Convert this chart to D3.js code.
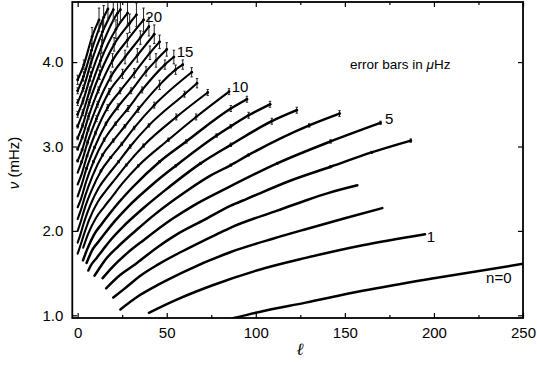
<!DOCTYPE html>
<html>
<head>
<meta charset="utf-8">
<script src="https://cdn.jsdelivr.net/npm/d3@7/dist/d3.min.js"></script>
<style>
  body { margin: 0; background: #fff; }
  svg text { font-family: "Liberation Sans", Arial, sans-serif; fill: #000; }
</style>
</head>
<body>
<svg id="chart" width="537" height="366"></svg>
<script>
// ridges of the l-nu diagram, [degree l, frequency nu in mHz], one array per radial order n
const n0 = [[87, 0.965], [102, 1.04], [128, 1.15], [160, 1.29], [200, 1.44], [250, 1.61]];
const n1 = [[40, 1.03], [55, 1.18], [75, 1.35], [102, 1.54], [128, 1.68], [160, 1.83], [195, 1.96]];
const n2 = [[24, 1.07], [35, 1.24], [45, 1.36], [59, 1.51], [86, 1.75], [110, 1.91], [128, 2.02], [150, 2.15], [171, 2.27]];
const n3 = [[20, 1.21], [26, 1.31], [36, 1.48], [45, 1.60], [58, 1.75], [78, 1.96], [86, 2.04], [112, 2.24], [128, 2.36], [141, 2.45], [157, 2.54]];
const n4 = [[16, 1.32], [24, 1.48], [32, 1.60], [45, 1.81], [55, 1.95], [71, 2.13], [86, 2.30], [95, 2.38], [120, 2.60], [142, 2.76], [165, 2.93], [187, 3.07]];
const n5 = [[14, 1.44], [19, 1.56], [28, 1.74], [37, 1.89], [53, 2.14], [65, 2.30], [84, 2.51], [112, 2.80], [142, 3.06], [170, 3.28]];
const n6 = [[9.5, 1.47], [12.6, 1.57], [16, 1.67], [22, 1.80], [33, 2.01], [43, 2.19], [61, 2.47], [75, 2.66], [86, 2.78], [96, 2.90], [130, 3.25], [147, 3.39]];
const n7 = [[6, 1.53], [7.4, 1.59], [10.7, 1.68], [14.3, 1.78], [18.4, 1.89], [25, 2.04], [37.5, 2.28], [49, 2.48], [69, 2.80], [86, 3.02], [109, 3.30], [123, 3.43]];
const n8 = [[5, 1.62], [8.4, 1.78], [12, 1.88], [16, 1.99], [20.6, 2.11], [28, 2.28], [42, 2.55], [55, 2.77], [78, 3.13], [86, 3.24], [96, 3.37], [108, 3.50]];
const n9 = [[3, 1.65], [5.5, 1.79], [9.3, 1.96], [13.4, 2.08], [17.8, 2.20], [22.8, 2.33], [31, 2.52], [46, 2.82], [61, 3.06], [86, 3.45], [95, 3.56]];
const n10 = [[3.1, 1.80], [6, 1.97], [10.2, 2.15], [14.7, 2.28], [19.5, 2.41], [25, 2.56], [34, 2.77], [51, 3.08], [66.5, 3.35], [85, 3.65]];
const n11 = [[0, 1.73], [1.3, 1.81], [3.4, 1.95], [6.6, 2.14], [11.2, 2.34], [16, 2.48], [21.3, 2.62], [27.3, 2.78], [37, 3.01], [55.4, 3.35], [73, 3.64]];
const n12 = [[0, 1.86], [1.45, 1.95], [3.7, 2.11], [7.2, 2.31], [12.1, 2.52], [17.3, 2.67], [23, 2.82], [29.5, 3.00], [40, 3.25], [60, 3.62], [67, 3.75]];
const n13 = [[0, 2.00], [1.6, 2.10], [4, 2.27], [7.8, 2.48], [13.1, 2.71], [18.6, 2.87], [24.8, 3.03], [31.7, 3.22], [43, 3.49], [64, 3.88]];
const n14 = [[0, 2.14], [1.7, 2.24], [4.3, 2.42], [8.3, 2.65], [14, 2.90], [20, 3.07], [26.5, 3.24], [34, 3.44], [46, 3.73], [55, 3.91], [59, 3.97]];
const n15 = [[0, 2.28], [1.9, 2.38], [4.7, 2.58], [8.9, 2.82], [14.9, 3.08], [21.3, 3.27], [28.3, 3.45], [36.2, 3.67], [49, 3.97], [54, 4.06]];
const n16 = [[0, 2.41], [2, 2.53], [5, 2.74], [9.5, 2.99], [15.9, 3.27], [22.6, 3.47], [30, 3.66], [38.4, 3.89], [44, 4.02], [50, 4.15]];
const n17 = [[0, 2.55], [2.2, 2.67], [5.3, 2.89], [10, 3.16], [16.8, 3.46], [23.9, 3.66], [31.8, 3.87], [40.6, 4.11], [46, 4.24]];
const n18 = [[0, 2.69], [2.3, 2.82], [5.6, 3.05], [10.6, 3.33], [17.7, 3.65], [25.2, 3.86], [33.5, 4.08], [43, 4.33]];
const n19 = [[0, 2.83], [2.5, 2.96], [5.9, 3.20], [11.2, 3.50], [18.7, 3.83], [26.6, 4.06], [35.2, 4.29], [40, 4.42]];
const n20 = [[0, 2.97], [2.6, 3.11], [6.2, 3.36], [11.7, 3.67], [19.6, 4.02], [27.9, 4.26], [37, 4.50]];
const n21 = [[0, 3.10], [2.8, 3.25], [6.5, 3.52], [12.3, 3.85], [20.5, 4.21], [29.2, 4.46], [33, 4.56]];
const n22 = [[0, 3.24], [2.9, 3.40], [6.9, 3.67], [12.9, 4.02], [21.5, 4.39], [28, 4.58]];
const n23 = [[0, 3.38], [3, 3.54], [7.2, 3.83], [13.5, 4.19], [22.4, 4.58], [24, 4.62]];
const n24 = [[0, 3.52], [3.2, 3.69], [7.5, 3.99], [14, 4.36], [20, 4.62]];
const n25 = [[0, 3.66], [3.3, 3.83], [7.8, 4.14], [14.6, 4.53], [17, 4.63]];
const n26 = [[0, 3.79], [3.5, 3.97], [8.1, 4.30], [12, 4.50]];

const ridges = [n0, n1, n2, n3, n4, n5, n6, n7, n8, n9, n10, n11, n12, n13,
  n14, n15, n16, n17, n18, n19, n20, n21, n22, n23, n24, n25, n26];

// error bar half-length (drawn on the mHz axis) by frequency band
const errFrom = [2.7, 3.0, 3.3, 3.7, 4.0, 4.3, 4.5];
const errHalf = [0.012, 0.02, 0.035, 0.055, 0.08, 0.11, 0.14];

// ridge labels and where they sit [l, nu]
const labelText = ['n=0', '1', '5', '10', '15', '20'];
const labelAt = [[229.3, 1.383], [196, 1.872], [172.6, 3.267], [86.5, 3.649], [55.6, 4.064], [38, 4.479]];

const xMajor = [0, 50, 100, 150, 200, 250];
const xMinor = [25, 75, 125, 175, 225];
const yMajor = [1.0, 2.0, 3.0, 4.0];

const svg = d3.select('#chart');
const plotLeft = 72.3, plotRight = 523, plotTop = 2, plotBottom = 318;

const x = d3.scaleLinear().domain([-3, 250]).range([plotLeft, plotRight]);
const y = d3.scaleLinear().domain([0.968, 4.712]).range([plotBottom, plotTop]);

svg.append('clipPath').attr('id', 'clip')
  .append('rect')
  .attr('x', plotLeft).attr('y', plotTop)
  .attr('width', plotRight - plotLeft).attr('height', plotBottom - plotTop);

const plot = svg.append('g').attr('clip-path', 'url(#clip)');

const line = d3.line()
  .x(d => x(d[0]))
  .y(d => y(d[1]))
  .curve(d3.curveMonotoneX);

plot.selectAll('path.ridge')
  .data(ridges)
  .join('path')
  .attr('class', 'ridge')
  .attr('d', line)
  .attr('fill', 'none')
  .attr('stroke', '#000')
  .attr('stroke-width', (d, i) => i < 10 ? 2.5 : 2.1)
  .attr('stroke-linecap', 'round');

// points with error bars
const pts = ridges.flat().filter(d => d[1] >= errFrom[0]);
const halfOf = v => errHalf[d3.bisectRight(errFrom, v) - 1];

const bars = plot.selectAll('g.bar')
  .data(pts)
  .join('g')
  .attr('class', 'bar');

bars.append('line')
  .attr('x1', d => x(d[0])).attr('x2', d => x(d[0]))
  .attr('y1', d => y(d[1] - halfOf(d[1])))
  .attr('y2', d => y(d[1] + halfOf(d[1])))
  .attr('stroke', '#222').attr('stroke-width', 1);

bars.append('line')
  .attr('x1', d => x(d[0]) - 1.2).attr('x2', d => x(d[0]) + 1.2)
  .attr('y1', d => y(d[1] + halfOf(d[1])))
  .attr('y2', d => y(d[1] + halfOf(d[1])))
  .attr('stroke', '#222').attr('stroke-width', 1);

bars.append('line')
  .attr('x1', d => x(d[0]) - 1.2).attr('x2', d => x(d[0]) + 1.2)
  .attr('y1', d => y(d[1] - halfOf(d[1])))
  .attr('y2', d => y(d[1] - halfOf(d[1])))
  .attr('stroke', '#222').attr('stroke-width', 1);

bars.append('circle')
  .attr('cx', d => x(d[0])).attr('cy', d => y(d[1]))
  .attr('r', 1.4).attr('fill', '#000');

// axes, ticks pointing inward
function styleAxis(g) {
  g.select('.domain').remove();
  g.selectAll('.tick line').attr('stroke', '#000').attr('stroke-width', 1.2);
  g.selectAll('.tick text').attr('font-size', 15).attr('font-family', '"Liberation Sans", Arial, sans-serif');
}

svg.append('g')
  .attr('transform', `translate(0,${plotBottom})`)
  .call(d3.axisBottom(x).tickValues(xMajor).tickSize(-5).tickPadding(9).tickFormat(d3.format('d')))
  .call(styleAxis);
svg.append('g')
  .attr('transform', `translate(0,${plotBottom})`)
  .call(d3.axisBottom(x).tickValues(xMinor).tickSize(-3).tickFormat(''))
  .call(styleAxis);
svg.append('g')
  .attr('transform', `translate(0,${plotTop})`)
  .call(d3.axisTop(x).tickValues(xMajor).tickSize(-5).tickFormat(''))
  .call(styleAxis);
svg.append('g')
  .attr('transform', `translate(0,${plotTop})`)
  .call(d3.axisTop(x).tickValues(xMinor).tickSize(-3).tickFormat(''))
  .call(styleAxis);
svg.append('g')
  .attr('transform', `translate(${plotLeft},0)`)
  .call(d3.axisLeft(y).tickValues(yMajor).tickSize(-5).tickPadding(9).tickFormat(d3.format('.1f')))
  .call(styleAxis);
svg.append('g')
  .attr('transform', `translate(${plotRight},0)`)
  .call(d3.axisRight(y).tickValues(yMajor).tickSize(-5).tickFormat(''))
  .call(styleAxis);

// frame
svg.append('rect')
  .attr('x', plotLeft).attr('y', plotTop)
  .attr('width', plotRight - plotLeft).attr('height', plotBottom - plotTop)
  .attr('fill', 'none').attr('stroke', '#000').attr('stroke-width', 1.8);

// ridge labels
svg.selectAll('text.lab')
  .data(labelText)
  .join('text')
  .attr('class', 'lab')
  .attr('x', (d, i) => x(labelAt[i][0]))
  .attr('y', (d, i) => y(labelAt[i][1]))
  .attr('font-size', 15)
  .text(d => d);

const note = svg.append('text')
  .attr('x', x(152.9)).attr('y', y(3.918))
  .attr('font-size', 13.5);
note.append('tspan').text('error bars in ');
note.append('tspan').attr('font-style', 'italic').text('μ');
note.append('tspan').text('Hz');

// axis titles
const yt = svg.append('text')
  .attr('transform', 'translate(19,163) rotate(-90)')
  .attr('text-anchor', 'middle')
  .attr('font-size', 15);
yt.append('tspan').attr('font-style', 'italic').text('ν');
yt.append('tspan').text(' (mHz)');

svg.append('text')
  .attr('x', 300).attr('y', 355)
  .attr('text-anchor', 'middle')
  .attr('font-size', 17)
  .attr('font-style', 'italic')
  .style('font-family', '"DejaVu Serif", serif')
  .text('ℓ');
</script>
</body>
</html>
